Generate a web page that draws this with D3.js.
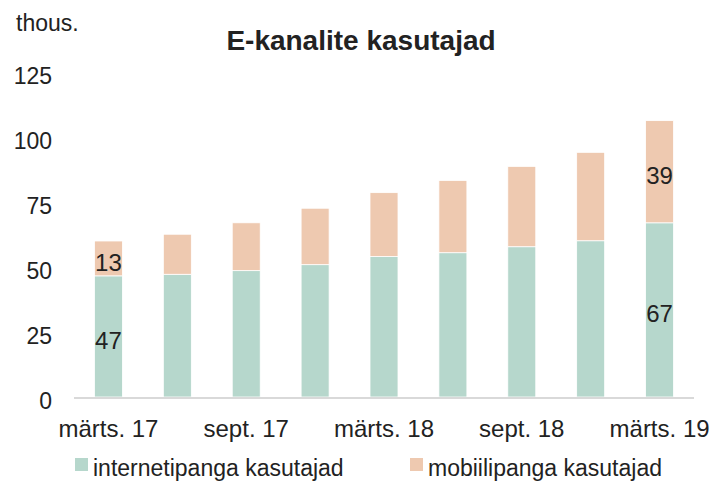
<!DOCTYPE html>
<html><head><meta charset="utf-8">
<script src="https://cdn.jsdelivr.net/npm/d3@7"></script>
<style>body{margin:0;background:#fff}svg{display:block}text{font-family:"Liberation Sans",Arial,sans-serif;fill:#222}</style>
</head><body><svg id="c" width="716" height="482"></svg>
<script>
const categories = ["märts. 17","juuni 17","sept. 17","dets. 17","märts. 18","juuni 18","sept. 18","dets. 18","märts. 19"];
const internet = [46.6, 47.2, 48.6, 50.9, 54.0, 55.5, 57.8, 60.1, 67.0];
const mobile = [13.4, 15.4, 18.4, 21.7, 24.6, 27.8, 30.9, 34.0, 39.3];
const labelledBars = [0, 8];
const yTicks = [0, 25, 50, 75, 100, 125];
const xTickLabels = ["märts. 17","sept. 17","märts. 18","sept. 18","märts. 19"];
const seriesNames = ["internetipanga kasutajad","mobiilipanga kasutajad"];
const colors = ["#b6d7cc","#eec9b0"];

const svg = d3.select("#c");
const x = d3.scaleBand().domain(categories).range([74, 694]);
const y = d3.scaleLinear().domain([0,125]).range([397, 72]);
const bw = 28;
const ff = '"Liberation Sans",Arial,sans-serif';

const rows = categories.map((c,i)=>({cat:c, internet:internet[i], mobile:mobile[i]}));
const stack = d3.stack().keys(["internet","mobile"])(rows);

stack.forEach((s,si)=>{
  svg.append("g").selectAll("rect").data(s).join("rect")
    .attr("x", d=>x(d.data.cat)+x.bandwidth()/2-bw/2)
    .attr("width", bw)
    .attr("y", d=>y(d[1]))
    .attr("height", d=>y(d[0])-y(d[1]))
    .attr("fill", colors[si])
    .attr("stroke","#fff").attr("stroke-width",0.8);
});

// value labels
labelledBars.forEach(i=>{
  stack.forEach(s=>{
    const d = s[i];
    svg.append("text")
      .attr("x", x(d.data.cat)+x.bandwidth()/2)
      .attr("y", y((d[0]+d[1])/2)+4)
      .attr("dy","0.35em")
      .attr("text-anchor","middle")
      .attr("font-size",24)
      .text(Math.round(d[1]-d[0]));
  });
});

// axis line
svg.append("line").attr("x1",74).attr("x2",694).attr("y1",y(0)+1).attr("y2",y(0)+1)
  .attr("stroke","#d9d9d9").attr("stroke-width",2);

// y tick labels
const ya = d3.axisLeft(y).tickValues(yTicks).tickSize(0).tickPadding(0);
const yg = svg.append("g").attr("transform","translate(52,4)").call(ya);
yg.select(".domain").remove();
yg.selectAll("text").attr("font-size",23).style("font-family",ff).attr("fill","#222");

// x tick labels
const xa = d3.axisBottom(x).tickValues(categories.filter(c=>xTickLabels.includes(c))).tickSize(0).tickPadding(0);
const xg = svg.append("g").attr("transform","translate(0,420)").call(xa);
xg.select(".domain").remove();
xg.selectAll("text").attr("font-size",24).style("font-family",ff).attr("fill","#222");

// title
svg.append("text").attr("x",361).attr("y",50).attr("text-anchor","middle")
  .attr("font-size",28).attr("font-weight","bold").attr("fill","#111").text("E-kanalite kasutajad");
svg.append("text").attr("x",16).attr("y",31).attr("font-size",23).text("thous.");

// legend
const legX = [75, 410];
seriesNames.forEach((n,i)=>{
  svg.append("rect").attr("x",legX[i]).attr("y",458).attr("width",13).attr("height",13).attr("fill",colors[i]);
  svg.append("text").attr("x",legX[i]+18).attr("y",476).attr("font-size",23).text(n);
});
</script></body></html>
